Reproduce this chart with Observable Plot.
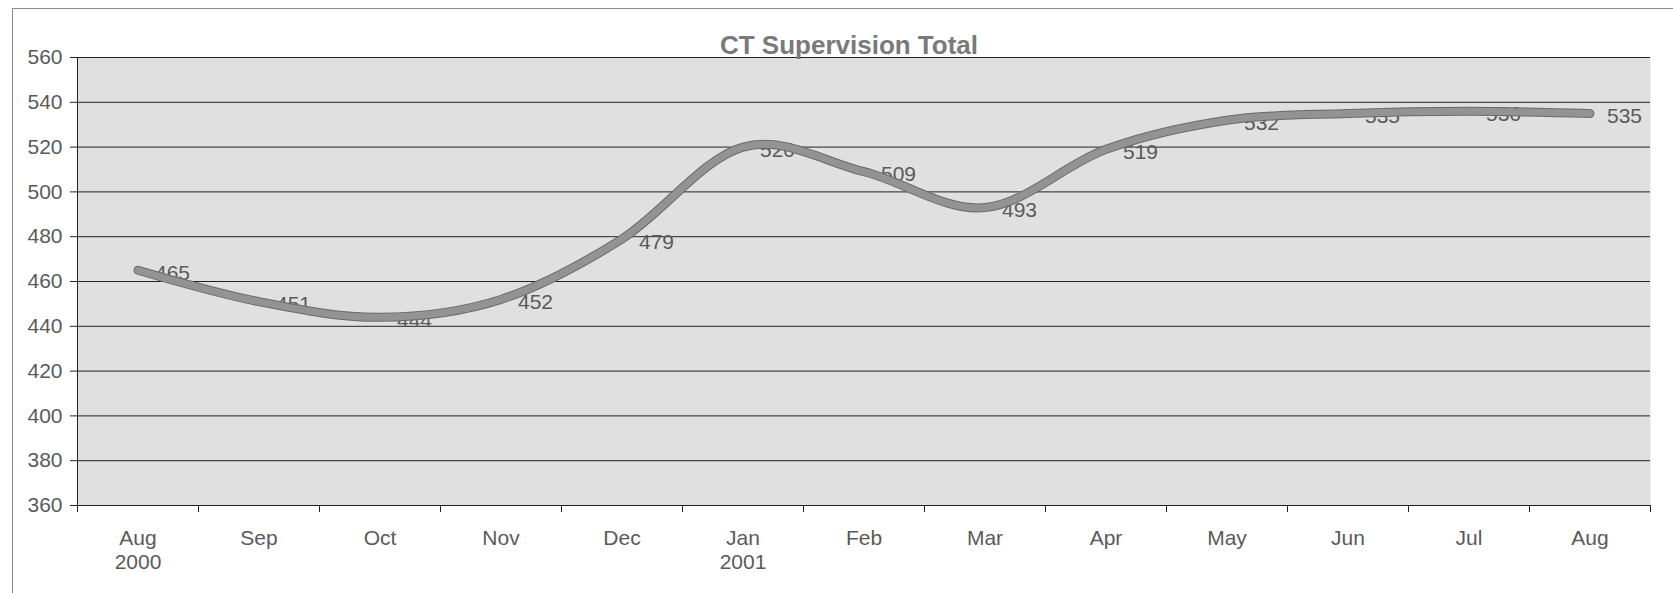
<!DOCTYPE html>
<html><head><meta charset="utf-8">
<script src="https://cdn.jsdelivr.net/npm/d3@7"></script>
<script src="https://cdn.jsdelivr.net/npm/@observablehq/plot@0.6"></script>
<style>
body{margin:0;background:#fff;}
#wrap{position:relative;width:1673px;height:593px;overflow:hidden}
#border{position:absolute;left:12px;top:8px;right:-2px;bottom:-2px;border-left:1px solid #8a8a8a;border-top:1px solid #8a8a8a;pointer-events:none}
</style></head><body><div id="wrap"><div id="border"></div></div>
<script>
const title = "CT Supervision Total";
const months = ["Aug\n2000","Sep","Oct","Nov","Dec","Jan\n2001","Feb","Mar","Apr","May","Jun","Jul","Aug"];
const values = [465,451,444,452,479,520,509,493,519,532,535,536,535];
const yTicks = [360,380,400,420,440,460,480,500,520,540,560];

const data = months.map((m,i)=>({pos:i+0.5, month:m, value:values[i]}));
const boundaries = d3.range(0, months.length+1);
const ink = "#5a5a5a";
const gridInk = "#222";

const chart = Plot.plot({
  width:1673, height:593,
  marginLeft:77, marginRight:23, marginTop:57, marginBottom:88,
  style:{fontFamily:"'Liberation Sans', Arial, sans-serif", background:"transparent", overflow:"visible"},
  x:{domain:[0, months.length]},
  y:{domain:[360, 560]},
  marks:[
    Plot.frame({fill:"#e0e0e0", stroke:null}),
    Plot.gridY(yTicks, {stroke:gridInk, strokeOpacity:1, strokeWidth:1}),
    Plot.ruleX([0], {stroke:gridInk}),
    Plot.axisY(yTicks, {tickSize:7, tickPadding:8, fontSize:21, fill:ink, stroke:gridInk, label:null}),
    Plot.axisX(boundaries, {tickSize:7, tickFormat:()=>"", stroke:gridInk, label:null}),
    Plot.axisX(data.map(d=>d.pos), {tickSize:0, tickPadding:22, tickFormat:p=>months[Math.floor(p)], fontSize:21, fill:ink, lineHeight:1.15, label:null}),
    Plot.text(data, {x:"pos", y:"value", text:d=>String(d.value), dx:17, dy:3, textAnchor:"start", fontSize:21, fill:ink}),
    Plot.line(data, {x:"pos", y:"value", curve:"cardinal", tension:0, stroke:"#6a6a6a", strokeWidth:9, strokeLinecap:"round", strokeLinejoin:"round"}),
    Plot.line(data, {x:"pos", y:"value", curve:"cardinal", tension:0, stroke:"#939393", strokeWidth:7, strokeLinecap:"round", strokeLinejoin:"round"}),
    Plot.text([title], {frameAnchor:"top", dx:-15, dy:-4, lineAnchor:"bottom", fontSize:26, fontWeight:"bold", fill:"#7a7a7a"})
  ]
});
document.getElementById("wrap").appendChild(chart);
</script>
</body></html>
